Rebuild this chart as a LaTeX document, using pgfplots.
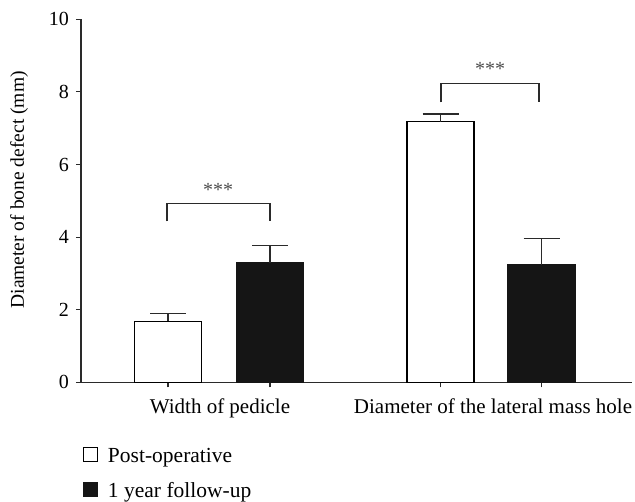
\documentclass[border=0pt]{standalone}
\usepackage{fontspec}
\setmainfont{Liberation Serif}
\usepackage{pgfplots}
\pgfplotsset{compat=1.18}
\definecolor{barblack}{HTML}{151515}
\definecolor{linegray}{HTML}{2A2A2A}
\begin{document}
\fontsize{21bp}{25bp}\selectfont
\begin{tikzpicture}[x=1bp,y=1bp]
\path[use as bounding box] (-81,-119.7) rectangle (554,382.3);
\begin{axis}[
  at={(0,0)}, anchor=south west,
  scale only axis, width=551bp, height=363bp,
  xmin=0, xmax=551, ymin=0, ymax=10,
  clip=false,
  axis x line*=bottom, axis y line*=left,
  axis line style={line width=1.1bp, color=linegray},
  ytick={0,2,4,6,8,10},
  xtick={87,189,359.5,460.5}, xticklabels={},
  tick align=outside, major tick length=5bp,
  tick style={line width=1.1bp, color=linegray},
  /pgf/number format/assume math mode=true,
  yticklabel style={font=\fontsize{20bp}{24bp}\selectfont},
  ylabel={Diameter of bone defect (mm)},
  ylabel style={font=\fontsize{19.5bp}{23bp}\selectfont, at={(axis description cs:-0.1125,0.53)}, anchor=center},
  legend style={draw=none, fill=none, at={(axis cs:0,0)}, anchor=north west,
    xshift=2bp, yshift=-65bp, inner sep=0pt, outer sep=0pt,
    nodes={inner sep=0pt, font=\fontsize{21.5bp}{25bp}\selectfont},
    column sep=10bp, row sep=17bp},
  legend cell align=left,
]
\addplot[ybar, bar width=67, bar shift=0pt, fill=white, draw=black, line width=1.1bp,
  legend image code/.code={\draw[draw=black, fill=white, line width=1bp] (0bp,-5bp) rectangle (14bp,9bp);},
  error bars/.cd, y dir=plus, y explicit,
  error bar style={line width=1.1bp, color=linegray},
  error mark options={rotate=90, mark size=18bp, line width=1.1bp, color=linegray}]
  coordinates {(87,1.68) +- (0,0.21) (359.5,7.18) +- (0,0.21)};
\addplot[ybar, bar width=67, bar shift=0pt, fill=barblack, draw=barblack, line width=1.1bp,
  legend image code/.code={\draw[draw=barblack, fill=barblack, line width=1bp] (0bp,-5bp) rectangle (14bp,9bp);},
  error bars/.cd, y dir=plus, y explicit,
  error bar style={line width=1.1bp, color=linegray},
  error mark options={rotate=90, mark size=18bp, line width=1.1bp, color=linegray}]
  coordinates {(189,3.29) +- (0,0.48) (460.5,3.24) +- (0,0.73)};
\addplot[forget plot, sharp plot, no marks, line width=1.1bp, color=linegray]
  coordinates {(86,4.43) (86,4.92) (189,4.92) (189,4.43)};
\addplot[forget plot, sharp plot, no marks, line width=1.1bp, color=linegray]
  coordinates {(360,7.71) (360,8.22) (458,8.22) (458,7.71)};
\node[text=black!70, font=\fontsize{20bp}{24bp}\selectfont] at (axis cs:137,5.3) {***};
\node[text=black!70, font=\fontsize{20bp}{24bp}\selectfont] at (axis cs:409,8.63) {***};
\node[anchor=base, yshift=-31bp] at (axis cs:139,0) {Width of pedicle};
\node[anchor=base, yshift=-31bp] at (axis cs:412,0) {Diameter of the lateral mass hole};
\legend{Post-operative, 1 year follow-up}
\end{axis}
\end{tikzpicture}
\end{document}
